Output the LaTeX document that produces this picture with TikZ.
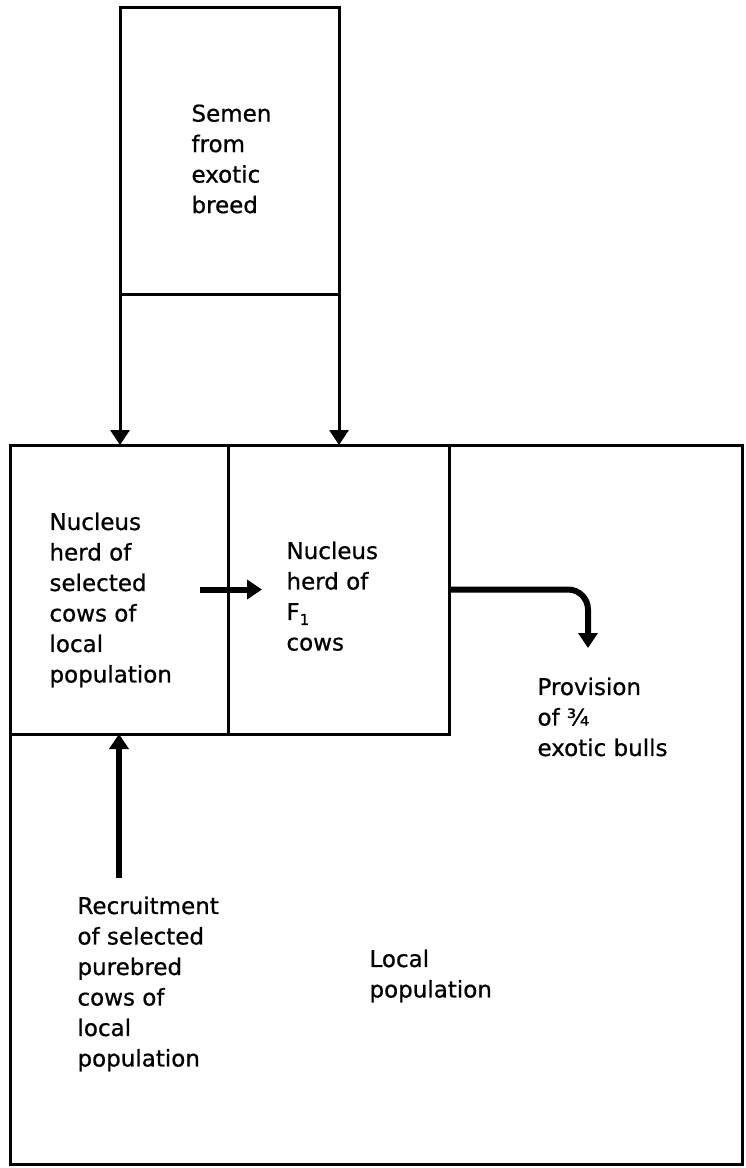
\documentclass[tikz,border=0pt]{standalone}
\usepackage{fontspec}
\setmainfont{DejaVu Sans}
\newfontfamily\scanfont{DejaVu Sans}[FakeBold=0.7]
\usetikzlibrary{arrows.meta,positioning}

\begin{document}
\begin{tikzpicture}
  [
    x=1pt, y=-1pt,
    >={Triangle[length=15pt,width=19pt]},
    line width=3pt,
    box/.style={draw, rectangle, outer sep=0pt, inner sep=0pt},
    txt/.style={anchor=north west, inner sep=0pt, align=left, font=\scanfont\fontsize{23}{30.5}\selectfont},
    heavy/.style={->, line width=6pt}
    ]
  \useasboundingbox (0,0) rectangle (745,1168);

  \node [box, minimum width=219pt, minimum height=287pt] (semen) at (229.5,150.5) {};
  \node [box, minimum width=732pt, minimum height=719pt] (local) at (376,804.5) {};
  \node [box, minimum width=218pt, minimum height=289pt] (nuc) at (119,589.5) {};
  \node [box, minimum width=221pt, minimum height=289pt] (f1) at (338.5,589.5) {};

  \node [txt] (1) at (190,103) {Semen\\from\\exotic\\breed};
  \node [txt] (2) at (48,511) {Nucleus\\herd of\\selected\\cows of\\local\\population};
  \node [txt] (3) at (285,540) {Nucleus\\herd of\\F\raisebox{-5pt}{\fontsize{15}{15}\selectfont 1}\\cows};
  \node [txt] (4) at (536,676) {Provision\\of ¾\\exotic bulls};
  \node [txt] (5) at (76,895) {Recruitment\\of selected\\purebred\\cows of\\local\\population};
  \node [txt] (6) at (368,948) {Local\\population};
  \coordinate (drop) at (588,648);

  \draw [->] (semen.south west) -- (semen.south west |- local.north);
  \draw [->] (semen.south east) -- (semen.south east |- local.north);
  \draw [heavy] ([xshift=-28pt]nuc.east) -- ([xshift=34pt]nuc.east);
  \draw [heavy, rounded corners=20pt] (f1.east) -- (f1.east -| drop) -- (drop);
  \draw [heavy] ([yshift=17pt]5.north -| nuc.south) -- (nuc.south);
\end{tikzpicture}
\end{document}
